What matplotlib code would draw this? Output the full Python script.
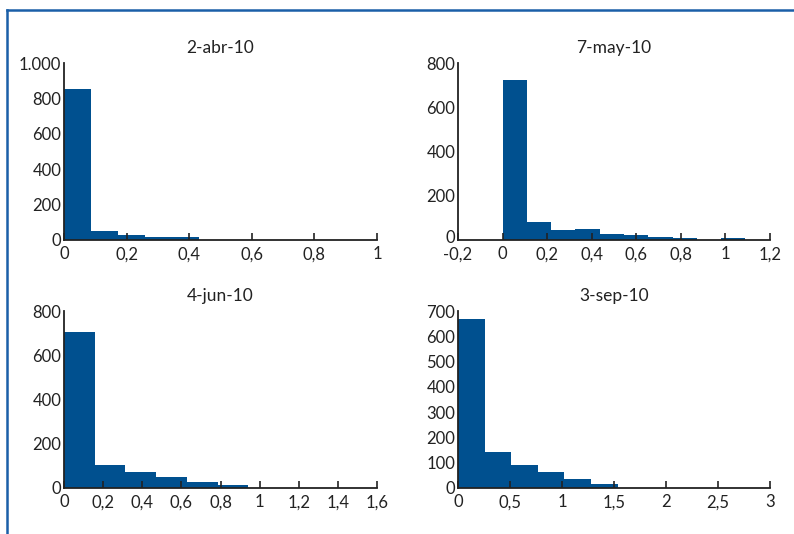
import matplotlib
matplotlib.use("Agg")
import matplotlib.pyplot as plt
from matplotlib.lines import Line2D
from matplotlib.ticker import FuncFormatter
import matplotlib.transforms as mtransforms

plt.rcParams['font.family'] = ['Lato', 'DejaVu Sans']

# ---- data ----
titles = ["2-abr-10", "7-may-10", "4-jun-10", "3-sep-10"]

edges_abr = [0, 0.086, 0.172, 0.258, 0.344, 0.43]
counts_abr = [851, 52, 28, 17, 17]

edges_may = [0, 0.109, 0.218, 0.327, 0.436, 0.545, 0.654, 0.763, 0.872, 0.981, 1.09]
counts_may = [722, 83, 45, 50, 27, 23, 14, 9, 0, 9]

edges_jun = [0, 0.157, 0.314, 0.471, 0.628, 0.785, 0.942]
counts_jun = [704, 105, 71, 48, 26, 15]

edges_sep = [0, 0.256, 0.512, 0.768, 1.024, 1.28, 1.536]
counts_sep = [667, 144, 92, 62, 37, 17]

xticks_abr = [0, 0.2, 0.4, 0.6, 0.8, 1]
xticks_may = [-0.2, 0, 0.2, 0.4, 0.6, 0.8, 1, 1.2]
xticks_jun = [0, 0.2, 0.4, 0.6, 0.8, 1, 1.2, 1.4, 1.6]
xticks_sep = [0, 0.5, 1, 1.5, 2, 2.5, 3]

yticks_abr = [0, 200, 400, 600, 800, 1000]
yticks_may = [0, 200, 400, 600, 800]
yticks_jun = [0, 200, 400, 600, 800]
yticks_sep = [0, 100, 200, 300, 400, 500, 600, 700]

bar_color = "#00508f"
frame_color = "#1a5fa8"

W, H = 794, 534
fig = plt.figure(figsize=(W / 100, H / 100), dpi=100)

def fx(px):
    return px / W

def fy(py):
    return 1 - py / H

boxes = [
    (64, 377, 63, 240),
    (458, 770, 63, 240),
    (64, 377, 311, 488),
    (458, 770, 311, 488),
]

panels = [
    (edges_abr, counts_abr, xticks_abr, yticks_abr),
    (edges_may, counts_may, xticks_may, yticks_may),
    (edges_jun, counts_jun, xticks_jun, yticks_jun),
    (edges_sep, counts_sep, xticks_sep, yticks_sep),
]

def fmt_num(v, pos=None):
    if abs(v - round(v)) < 1e-9:
        iv = int(round(v))
        return f"{iv:,}".replace(",", ".")
    return f"{v:.1f}".replace(".", ",")

for idx, ((l, r, t, b), (edges, counts, xt, yt), title) in enumerate(zip(boxes, panels, titles)):
    ax = fig.add_axes([fx(l), fy(b), fx(r) - fx(l), fy(t) - fy(b)])
    lefts = edges[:-1]
    widths = [edges[i + 1] - edges[i] for i in range(len(counts))]
    ax.bar(lefts, counts, width=widths, align='edge', color=bar_color,
           edgecolor='none', linewidth=0, zorder=1)
    ax.set_xlim(xt[0], xt[-1])
    ax.set_ylim(yt[0], yt[-1])
    ax.set_xticks(xt)
    ax.set_yticks(yt)
    ax.xaxis.set_major_formatter(FuncFormatter(fmt_num))
    ax.yaxis.set_major_formatter(FuncFormatter(fmt_num))
    for s in ['top', 'right']:
        ax.spines[s].set_visible(False)
    for s in ['left', 'bottom']:
        ax.spines[s].set_color('#222222')
        ax.spines[s].set_linewidth(1.3)
        ax.spines[s].set_zorder(3)
    ax.tick_params(axis='x', direction='in', length=5, width=1.2, color='#222222',
                   labelsize=12, pad=4.5, labelcolor='#222222')
    ax.tick_params(axis='y', length=0, labelsize=12, pad=2, labelcolor='#222222')
    if xt[0] < 0:
        # the y "0" label sits just above the first x label: lift it a little
        fig.canvas.draw()
        lab0 = ax.get_yticklabels()[0]
        off = mtransforms.ScaledTranslation(0, 2.5 / 72, fig.dpi_scale_trans)
        lab0.set_transform(lab0.get_transform() + off)
    ax.set_title(title, fontsize=12.5, color='#222222', pad=7)
    ax.set_facecolor('none')

# outer frame (top and left edges)
fig.add_artist(Line2D([fx(7), 1], [fy(9.5), fy(9.5)], color=frame_color, lw=1.8))
fig.add_artist(Line2D([fx(7), fx(7)], [fy(9.5), 0], color=frame_color, lw=1.8))

fig.savefig("out.png", dpi=100)
